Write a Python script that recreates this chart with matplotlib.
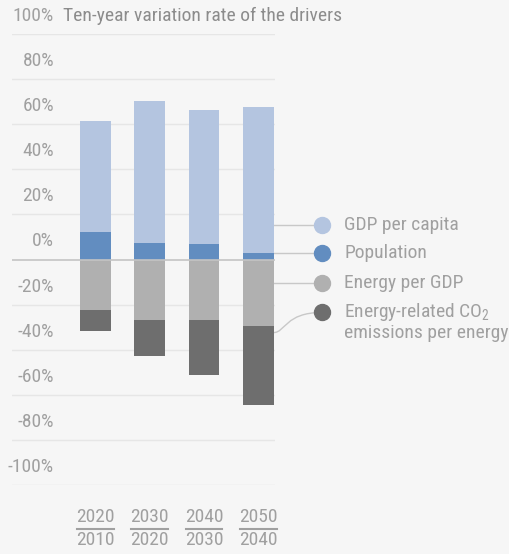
import matplotlib
matplotlib.use('Agg')
import matplotlib.pyplot as plt
from matplotlib import font_manager as fm
from matplotlib.path import Path
from matplotlib.patches import PathPatch

# данные (в процентах)
periods_top = ['2020', '2030', '2040', '2050']
periods_bottom = ['2010', '2020', '2030', '2040']
gdp_per_capita = [49.6, 63.4, 59.5, 64.6]
population = [12.0, 7.1, 7.0, 3.1]
energy_per_gdp = [-22.2, -27.0, -27.0, -29.3]
co2_per_energy = [-9.6, -15.8, -24.0, -35.3]
y_ticks = [100, 80, 60, 40, 20, 0, -20, -40, -60, -80, -100]
series_names = ['GDP per capita', 'Population', 'Energy per GDP',
                'Energy-related CO$_2$\nemissions per energy']
series_colors = ['#b4c5e0', '#628dc0', '#b0b0b0', '#6e6e6e']


def pick_font():
    """Ищет узкий шрифт, иначе берёт Roboto."""
    fonts = fm.fontManager.ttflist
    names = {f.name for f in fonts}
    for name in ['Roboto Condensed', 'Liberation Sans Narrow', 'Noto Sans Condensed',
                 'Open Sans Condensed', 'DejaVu Sans Condensed']:
        if name in names:
            return name, 'normal', 14
    for name in ['Roboto', 'Noto Sans', 'DejaVu Sans']:
        if any(f.name == name and str(f.stretch) in ('condensed', 'semi-condensed')
               for f in fonts):
            return name, 'condensed', 14
    return 'Roboto', 'normal', 13


font_name, font_stretch, fs = pick_font()
plt.rcParams['font.family'] = [font_name, 'DejaVu Sans']
plt.rcParams['font.stretch'] = font_stretch
plt.rcParams['mathtext.fontset'] = 'custom'
plt.rcParams['mathtext.rm'] = font_name

bg = '#f6f6f6'
text_color = '#a0a0a0'

fig = plt.figure(figsize=(5.10, 5.54), dpi=100, facecolor=bg)
ax = fig.add_axes([12 / 510, 69 / 554, 263 / 510, 451 / 554], facecolor=bg)
ax.set_xlim(-1.54, 3.31)
ax.set_ylim(-100, 100)
for s in ax.spines.values():
    s.set_visible(False)
ax.set_xticks([])
ax.set_yticks([])

# сетка и подписи оси Y (подписи стоят над линиями)
for v in y_ticks:
    if v != 0:
        ax.axhline(v, color='#e6e6e6', lw=1, zorder=0)
    ax.annotate(f'{v}%', xy=(0.16, v), xycoords=ax.get_yaxis_transform(),
                xytext=(0, 18), textcoords='offset pixels',
                ha='right', va='center', fontsize=fs, color=text_color)

ax.annotate('Ten-year variation rate of the drivers', xy=(0.195, 100),
            xycoords=ax.get_yaxis_transform(), xytext=(0, 18),
            textcoords='offset pixels', ha='left', va='center',
            fontsize=fs, color='#8c8c8c')

# столбцы
x = list(range(len(periods_top)))
w = 0.57
ax.bar(x, population, w, color=series_colors[1], zorder=2)
ax.bar(x, gdp_per_capita, w, bottom=population, color=series_colors[0], zorder=2)
ax.bar(x, energy_per_gdp, w, color=series_colors[2], zorder=2)
ax.bar(x, co2_per_energy, w, bottom=energy_per_gdp, color=series_colors[3], zorder=2)
ax.axhline(0, color='#c4c4c4', lw=1.2, zorder=3)

# подписи периодов в виде дроби
for i in x:
    ax.text(i, -114, periods_top[i], ha='center', va='center', fontsize=fs,
            color=text_color, clip_on=False)
    ax.plot([i - 0.34, i + 0.34], [-119.7, -119.7], color=text_color, lw=1.5,
            clip_on=False)
    ax.text(i, -124.5, periods_bottom[i], ha='center', va='center', fontsize=fs,
            color=text_color, clip_on=False)

# легенда справа с выносками
legend_y = [15.5, 2.7, -10.2, -23.5]
bar_edge = x[-1] + w / 2
dot_x = 4.17
for name, col, ly in zip(series_names, series_colors, legend_y):
    ax.plot(dot_x, ly, 'o', ms=11.5, color=col, clip_on=False, zorder=4)
    if '\n' in name:
        ax.annotate(name, xy=(dot_x + 0.42, ly), xytext=(0, 11),
                    textcoords='offset pixels', ha='left', va='top',
                    fontsize=fs, color=text_color, linespacing=1.05,
                    annotation_clip=False)
    else:
        ax.text(dot_x + 0.42, ly, name, ha='left', va='center',
                fontsize=fs, color=text_color, clip_on=False)
for ly in legend_y[:3]:
    ax.plot([bar_edge, dot_x], [ly, ly], color='#c8c8c8', lw=1, clip_on=False, zorder=1)
curve = Path([(bar_edge, -32.4), (3.5, -32.4), (3.5, -23.5), (dot_x, -23.5)],
             [Path.MOVETO, Path.CURVE4, Path.CURVE4, Path.CURVE4])
ax.add_patch(PathPatch(curve, fc='none', ec='#c8c8c8', lw=1, clip_on=False, zorder=1))

fig.savefig('out.png', dpi=100, facecolor=bg)
